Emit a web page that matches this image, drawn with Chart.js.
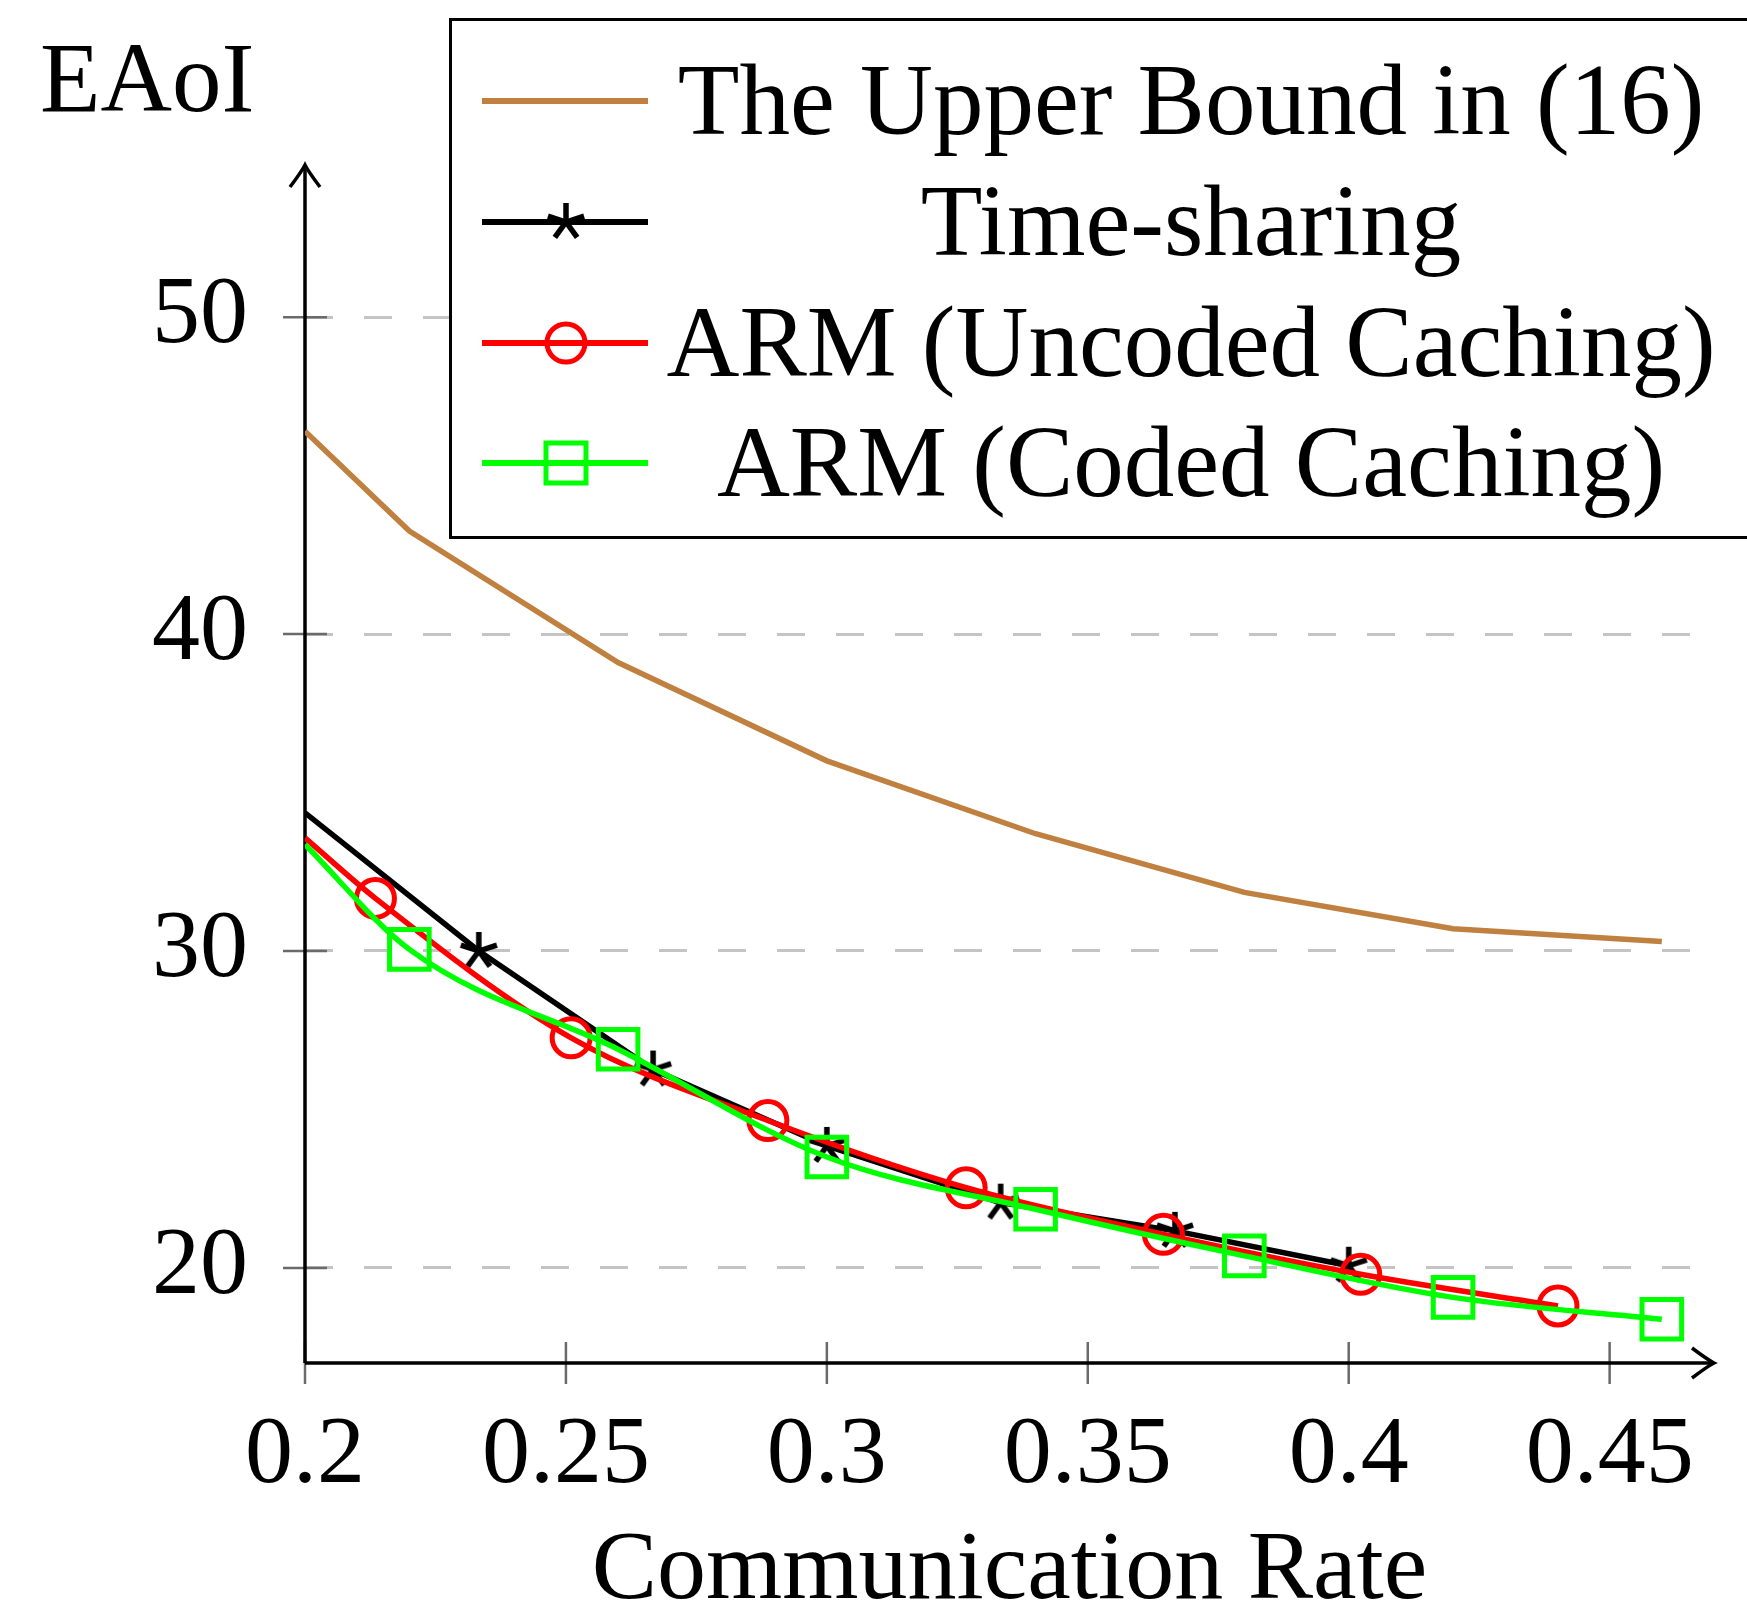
<!DOCTYPE html>
<html>
<head>
<meta charset="utf-8">
<title>EAoI vs Communication Rate</title>
<script src="https://cdn.jsdelivr.net/npm/chart.js@4.4.1/dist/chart.umd.min.js"></script>
<style>
    html, body { margin: 0; padding: 0; background: #fff; }
    #wrap { position: relative; width: 1747px; height: 1622px; overflow: hidden; }
    #chart { position: absolute; left: 0; top: 0; }
    #ylabel {
        position: absolute; left: 40px; top: 28px;
        font: 99px/99px "Liberation Serif", "DejaVu Serif", serif; color: #000;
    }
    #legend {
        position: absolute; left: 449px; top: 18px; width: 1400px; height: 521px;
        background: #fff; border: 3.5px solid #000; box-sizing: border-box;
    }
    .lg-icon { position: absolute; }
    .lg-text {
        position: absolute; white-space: nowrap; transform: translateX(-50%);
        font: 101px/100px "Liberation Serif", "DejaVu Serif", serif; color: #000;
    }
</style>
</head>
<body>
<div id="wrap">
    <canvas id="chart" width="1747" height="1622"></canvas>
    <div id="ylabel">EAoI</div>
    <div id="legend"></div>
</div>
<script>
// ---- data ----
const xTicks = [0.2, 0.25, 0.3, 0.35, 0.4, 0.45];
const yTicks = [20, 30, 40, 50];
const seriesNames = ['The Upper Bound in (16)', 'Time-sharing', 'ARM (Uncoded Caching)', 'ARM (Coded Caching)'];

const upperX = [0.2, 0.22, 0.26, 0.30, 0.34, 0.38, 0.42, 0.46];
const upperY = [46.4, 43.25, 39.1, 36.0, 33.7, 31.85, 30.7, 30.3];

const timeX = [0.2, 0.2333, 0.2667, 0.3, 0.3333, 0.3667, 0.4];
const timeY = [34.36, 30.0, 26.26, 23.85, 22.06, 21.17, 20.07];

const uncodedX = [0.2, 0.2135, 0.251, 0.2887, 0.3267, 0.3645, 0.4023, 0.4401];
const uncodedY = [33.57, 31.66, 27.26, 24.65, 22.53, 21.06, 19.8, 18.8];

const codedX = [0.2, 0.22, 0.26, 0.30, 0.34, 0.38, 0.42, 0.46];
const codedY = [33.36, 30.05, 26.9, 23.5, 21.85, 20.38, 19.07, 18.38];

const FONT = '"Liberation Serif", "DejaVu Serif", serif';
const BROWN = '#bf8040', RED = '#ff0000', GREEN = '#00ff00', BLACK = '#000000';
const LINE_W = 5.5;

const toPoints = (xs, ys) => xs.map((x, i) => ({ x: x, y: ys[i] }));
// first sample sits on the y axis and carries no mark
const markSizes = (xs, r) => xs.map((x, i) => (i === 0 ? 0 : r));

// pgfplots-like 5 ray star
function makeStar(r, w) {
    const c = document.createElement('canvas');
    const s = Math.ceil(2 * r + w + 2);
    c.width = s; c.height = s;
    const g = c.getContext('2d');
    g.strokeStyle = BLACK; g.lineWidth = w;
    g.translate(s / 2, s / 2);
    for (let k = 0; k < 5; k++) {
        const a = -Math.PI / 2 + k * 2 * Math.PI / 5;
        g.beginPath(); g.moveTo(0, 0); g.lineTo(r * Math.cos(a), r * Math.sin(a)); g.stroke();
    }
    return c;
}
const starMark = makeStar(19, 5.5);

const datasets = [
    {
        label: seriesNames[0], data: toPoints(upperX, upperY),
        borderColor: BROWN, borderWidth: LINE_W, pointRadius: 0, tension: 0, order: 3
    },
    {
        label: seriesNames[1], data: toPoints(timeX, timeY),
        borderColor: BLACK, borderWidth: LINE_W, tension: 0, order: 2,
        pointStyle: starMark, pointRadius: markSizes(timeX, 19)
    },
    {
        label: seriesNames[2], data: toPoints(uncodedX, uncodedY),
        borderColor: RED, borderWidth: LINE_W, cubicInterpolationMode: 'monotone', order: 1,
        pointStyle: 'circle', pointRadius: markSizes(uncodedX, 19), pointBorderWidth: 5,
        pointBorderColor: RED, pointBackgroundColor: 'rgba(0,0,0,0)'
    },
    {
        label: seriesNames[3], data: toPoints(codedX, codedY),
        borderColor: GREEN, borderWidth: LINE_W, cubicInterpolationMode: 'monotone', order: 0,
        pointStyle: 'rect', pointRadius: markSizes(codedX, 28), pointBorderWidth: 5,
        pointBorderColor: GREEN, pointBackgroundColor: 'rgba(0,0,0,0)'
    }
];

// axis lines with arrow heads, and tick marks crossing the axes
const axisPlugin = {
    id: 'arrowAxes',
    beforeDatasetsDraw(chart) {
        const { ctx, chartArea: a, scales } = chart;
        ctx.save();
        // tick marks
        ctx.strokeStyle = '#6a6a6a';
        ctx.lineWidth = 2.5;
        xTicks.forEach(v => {
            const px = scales.x.getPixelForValue(v);
            ctx.beginPath(); ctx.moveTo(px, a.bottom - 21); ctx.lineTo(px, a.bottom + 21); ctx.stroke();
        });
        yTicks.forEach(v => {
            const py = scales.y.getPixelForValue(v);
            ctx.beginPath(); ctx.moveTo(a.left - 22, py); ctx.lineTo(a.left + 22, py); ctx.stroke();
        });
        // axes
        ctx.strokeStyle = BLACK;
        ctx.lineWidth = 3.5;
        ctx.beginPath();
        ctx.moveTo(a.left, a.bottom); ctx.lineTo(a.right - 2, a.bottom);
        ctx.moveTo(a.left, a.bottom); ctx.lineTo(a.left, a.top + 2);
        ctx.stroke();
        // arrow heads
        ctx.lineWidth = 3.5;
        ctx.beginPath();
        ctx.moveTo(a.right - 22, a.bottom - 15);
        ctx.quadraticCurveTo(a.right - 6, a.bottom - 3, a.right, a.bottom);
        ctx.quadraticCurveTo(a.right - 6, a.bottom + 3, a.right - 22, a.bottom + 15);
        ctx.moveTo(a.left - 15, a.top + 22);
        ctx.quadraticCurveTo(a.left - 3, a.top + 6, a.left, a.top);
        ctx.quadraticCurveTo(a.left + 3, a.top + 6, a.left + 15, a.top + 22);
        ctx.stroke();
        ctx.restore();
    }
};

const chart = new Chart(document.getElementById('chart').getContext('2d'), {
    type: 'line',
    data: { datasets: datasets },
    options: {
        responsive: false,
        animation: false,
        layout: { padding: { top: 165, right: 27, left: 0, bottom: 0 } },
        plugins: { legend: { display: false }, tooltip: { enabled: false } },
        scales: {
            x: {
                type: 'linear', min: 0.2, max: 0.47,
                afterBuildTicks: s => { s.ticks = xTicks.map(v => ({ value: v })); },
                afterFit: s => { s.height = 259; },
                grid: { display: false, drawTicks: false },
                border: { display: false },
                ticks: {
                    color: '#000', padding: 46, maxRotation: 0, autoSkip: false,
                    font: { family: FONT, size: 96, lineHeight: 1 },
                    callback: v => String(v)
                },
                title: {
                    display: true, text: 'Communication Rate', color: '#000',
                    font: { family: FONT, size: 98, lineHeight: 1 },
                    padding: { top: 0, bottom: 1 }
                }
            },
            y: {
                type: 'linear', min: 17, max: 54.8,
                afterBuildTicks: s => { s.ticks = yTicks.map(v => ({ value: v })); },
                afterFit: s => { s.width = 305; },
                grid: { color: '#c4c4c4', lineWidth: 3, drawTicks: false },
                border: { display: false, dash: [28, 31] },
                ticks: {
                    color: '#000', padding: 57,
                    font: { family: FONT, size: 96, lineHeight: 1 },
                    callback: v => String(v)
                }
            }
        }
    },
    plugins: [axisPlugin]
});

// ---- legend (line + mark sample, centred label) ----
const legendRowsY = [98, 219, 340, 460];   // page y of each row centre
const legendBox = document.getElementById('legend');
datasets.forEach((ds, i) => {
    const rowY = legendRowsY[i] - 18;       // relative to the box top
    const icon = document.createElement('canvas');
    icon.width = 170; icon.height = 60;
    icon.className = 'lg-icon';
    icon.style.left = (482 - 452) + 'px';
    icon.style.top = (rowY - 30) + 'px';
    const g = icon.getContext('2d');
    g.strokeStyle = ds.borderColor; g.lineWidth = 6;
    g.beginPath(); g.moveTo(0, 30); g.lineTo(166, 30); g.stroke();
    const cx = 84, cy = 30;
    if (ds.pointStyle === 'circle') {
        g.lineWidth = 5; g.beginPath(); g.arc(cx, cy, 19, 0, 2 * Math.PI); g.stroke();
    } else if (ds.pointStyle === 'rect') {
        g.lineWidth = 5; g.strokeRect(cx - 20, cy - 20, 40, 40);
    } else if (ds.pointStyle) {
        g.drawImage(ds.pointStyle, cx - ds.pointStyle.width / 2, cy - ds.pointStyle.height / 2);
    }
    legendBox.appendChild(icon);

    const t = document.createElement('span');
    t.className = 'lg-text';
    t.textContent = ds.label;
    t.style.left = (1191 - 452) + 'px';
    t.style.top = (rowY - 51) + 'px';
    legendBox.appendChild(t);
});
</script>
</body>
</html>
